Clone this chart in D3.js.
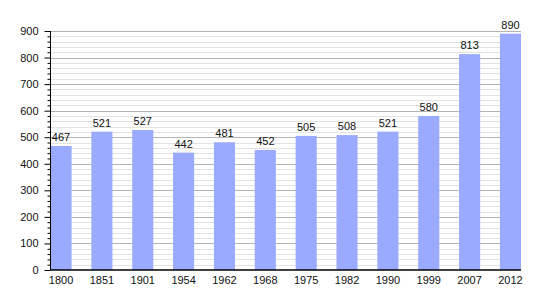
<!DOCTYPE html>
<html>
<head>
<meta charset="utf-8">
<script src="https://cdn.jsdelivr.net/npm/d3@7"></script>
<style>
  body { margin: 0; background: #fff; }
  text { font-family: "Liberation Sans", Arial, sans-serif; }
</style>
</head>
<body>
<svg width="550" height="300"></svg>
<script>
// population by census year
const years = ["1800", "1851", "1901", "1954", "1962", "1968", "1975", "1982", "1990", "1999", "2007", "2012"];
const population = [467, 521, 527, 442, 481, 452, 505, 508, 521, 580, 813, 890];
const yTicks = [0, 100, 200, 300, 400, 500, 600, 700, 800, 900];

const data = years.map((y, i) => ({ year: y, value: population[i] }));

const svg = d3.select("svg");
const plotLeft = 50.5, plotRight = 521, plotTop = 31, plotBottom = 270;

const xScale = d3.scaleBand()
  .domain(years)
  .range([plotLeft, plotRight])
  .paddingInner(0.484)
  .paddingOuter(0);

const yScale = d3.scaleLinear()
  .domain([0, 900])
  .range([plotBottom, plotTop]);

// minor grid lines every 20
const minor = d3.range(0, 901, 20).filter((v) => v % 100 !== 0);
svg.append("g")
  .selectAll("line")
  .data(minor)
  .enter()
  .append("line")
  .attr("x1", plotLeft)
  .attr("x2", plotRight)
  .attr("y1", (d) => Math.round(yScale(d)) + 0.5)
  .attr("y2", (d) => Math.round(yScale(d)) + 0.5)
  .attr("stroke", "#e2e2e2")
  .attr("stroke-width", 1);

// major grid lines
svg.append("g")
  .selectAll("line")
  .data(yTicks.slice(1))
  .enter()
  .append("line")
  .attr("x1", plotLeft)
  .attr("x2", plotRight)
  .attr("y1", (d) => Math.round(yScale(d)) + 0.5)
  .attr("y2", (d) => Math.round(yScale(d)) + 0.5)
  .attr("stroke", "#b4b4b4")
  .attr("stroke-width", 1);

// bars
svg.append("g")
  .selectAll("rect")
  .data(data)
  .enter()
  .append("rect")
  .attr("x", (d) => xScale(d.year))
  .attr("width", xScale.bandwidth())
  .attr("y", (d) => yScale(d.value))
  .attr("height", (d) => plotBottom - yScale(d.value))
  .attr("fill", "#99aaff");

// value labels
svg.append("g")
  .selectAll("text")
  .data(data)
  .enter()
  .append("text")
  .attr("x", (d) => xScale(d.year) + xScale.bandwidth() / 2)
  .attr("y", (d) => yScale(d.value) - 5)
  .attr("text-anchor", "middle")
  .attr("font-size", 11)
  .attr("fill", "#111")
  .text((d) => d.value);

// y axis with minor ticks
const yAxisMinor = d3.axisLeft(yScale)
  .tickValues(minor)
  .tickSize(3)
  .tickFormat("");
svg.append("g")
  .attr("transform", `translate(${plotLeft},0)`)
  .call(yAxisMinor)
  .call((g) => g.select(".domain").remove())
  .call((g) => g.selectAll("line").attr("stroke", "#000"));

const yAxis = d3.axisLeft(yScale)
  .tickValues(yTicks)
  .tickSize(6)
  .tickPadding(6);
svg.append("g")
  .attr("transform", `translate(${plotLeft},0)`)
  .call(yAxis)
  .call((g) => g.select(".domain").attr("d", `M0,${plotTop}V${plotBottom}`).attr("stroke", "#000"))
  .call((g) => g.selectAll("text").attr("font-size", 11).attr("fill", "#111").attr("font-family", "Liberation Sans, Arial, sans-serif"));

// x axis
const xAxis = d3.axisBottom(xScale).tickSize(0).tickPadding(6);
svg.append("g")
  .attr("transform", `translate(0,${plotBottom})`)
  .call(xAxis)
  .call((g) => g.select(".domain").attr("d", `M${plotLeft},0H${plotRight}`).attr("stroke", "#000").attr("stroke-width", 1.5))
  .call((g) => g.selectAll("text").attr("font-size", 11).attr("fill", "#111").attr("font-family", "Liberation Sans, Arial, sans-serif"));
</script>
</body>
</html>
